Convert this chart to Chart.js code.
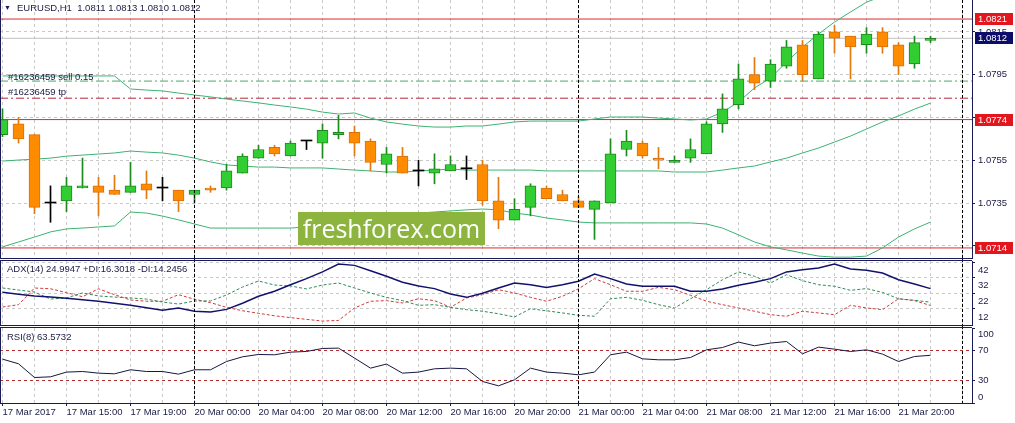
<!DOCTYPE html>
<html>
<head>
<meta charset="utf-8">
<title>EURUSD H1</title>
<script src="https://cdn.jsdelivr.net/npm/chart.js@4.4.1/dist/chart.umd.min.js"></script>
<style>
  html, body { margin: 0; padding: 0; background: #fff; }
  #chart { position: relative; width: 1015px; height: 423px; overflow: hidden; font-family: 'Liberation Sans', Arial, sans-serif; }
  #chart canvas { position: absolute; left: 0; }
  .lbl { position: absolute; font-size: 9.5px; line-height: 12px; color: #1b1b45; white-space: pre; }
  #logo { position: absolute; left: 298px; top: 212px; width: 187px; height: 33px; background: #8cb43f; color: #fff;
          font-family: 'Open Sans', sans-serif; font-size: 25px; line-height: 32px; text-align: center; }
</style>
</head>
<body>
<div id="chart">
  <canvas id="priceChart" width="1015" height="259" style="top:0"></canvas>
  <canvas id="adxChart" width="1015" height="67" style="top:259px"></canvas>
  <canvas id="rsiChart" width="1015" height="97" style="top:326px"></canvas>
  <div class="lbl" style="left:4px;top:2px;font-size:7px;color:#1b1b6b">▼</div>
  <div class="lbl" style="left:17px;top:2px">EURUSD,H1  1.0811 1.0813 1.0810 1.0812</div>
  <div class="lbl" style="left:8px;top:71px">#16236459 sell 0.15</div>
  <div class="lbl" style="left:8px;top:86px">#16236459 tp</div>
  <div class="lbl" style="left:7px;top:263px">ADX(14) 24.9947 +DI:16.3018 -DI:14.2456</div>
  <div class="lbl" style="left:7px;top:331px">RSI(8) 63.5732</div>
  <div id="logo">freshforex.com</div>
</div>
<script>
// EURUSD H1, 17 Mar 11:00 - 21 Mar 22:00 (2017)
var opens = [1.0767,1.0772,1.0767,1.0735,1.0736,1.0742,1.0743,1.0741,1.0740,1.0744,
             1.0742,1.0741,1.0739,1.0742,1.0742,1.0749,1.0756,1.0761,1.0757,1.0764,
             1.0763,1.0767,1.0768,1.0764,1.0753,1.0757,1.0750,1.0749,1.0750,1.0751,
             1.0753,1.0736,1.0727,1.0733,1.0742,1.0739,1.0736,1.0732,1.0735,1.0760,
             1.0763,1.0756,1.0754,1.0756,1.0758,1.0772,1.0781,1.0795,1.0792,1.0799,
             1.0809,1.0793,1.0815,1.0813,1.0809,1.0815,1.0809,1.0800,1.0811];
var highs = [1.0779,1.0775,1.0767,1.0743,1.0747,1.0756,1.0747,1.0748,1.0754,1.0750,
             1.0747,1.0741,1.0741,1.0743,1.0753,1.0758,1.0762,1.0762,1.0764,1.0764,
             1.0772,1.0776,1.0771,1.0765,1.0761,1.0761,1.0755,1.0758,1.0757,1.0757,
             1.0755,1.0747,1.0737,1.0744,1.0743,1.0741,1.0738,1.0736,1.0765,1.0769,
             1.0764,1.0761,1.0757,1.0765,1.0773,1.0786,1.0800,1.0803,1.0802,1.0811,
             1.0811,1.0815,1.0818,1.0813,1.0817,1.0817,1.0810,1.0813,1.0813];
var lows = [1.0766,1.0763,1.0730,1.0726,1.0731,1.0742,1.0729,1.0739,1.0740,1.0737,
            1.0736,1.0731,1.0735,1.0740,1.0741,1.0749,1.0756,1.0757,1.0757,1.0760,
            1.0756,1.0765,1.0757,1.0750,1.0749,1.0749,1.0743,1.0744,1.0750,1.0746,
            1.0734,1.0723,1.0727,1.0729,1.0737,1.0736,1.0733,1.0718,1.0735,1.0757,
            1.0756,1.0751,1.0754,1.0754,1.0758,1.0768,1.0779,1.0788,1.0789,1.0798,
            1.0792,1.0793,1.0805,1.0793,1.0805,1.0805,1.0795,1.0798,1.0810];
var closes = [1.0774,1.0765,1.0733,1.0735,1.0743,1.0743,1.0740,1.0739,1.0743,1.0741,
              1.0742,1.0736,1.0741,1.0741,1.0750,1.0757,1.0760,1.0758,1.0763,1.0764,
              1.0769,1.0768,1.0763,1.0754,1.0758,1.0749,1.0750,1.0751,1.0753,1.0751,
              1.0736,1.0727,1.0732,1.0743,1.0737,1.0736,1.0733,1.0736,1.0758,1.0764,
              1.0757,1.0755,1.0755,1.0760,1.0772,1.0779,1.0793,1.0791,1.0800,1.0808,
              1.0795,1.0814,1.0812,1.0808,1.0814,1.0808,1.0799,1.0810,1.0812];

// Bollinger bands
var bbUpper = [1.07944,1.07944,1.07944,1.07944,1.07944,1.07944,1.07944,1.07944,1.07883,1.07878,
               1.07874,1.07864,1.07855,1.07846,1.07836,1.07827,1.07818,1.07808,1.07799,1.07789,
               1.07775,1.07766,1.07771,1.07747,1.07729,1.07719,1.07710,1.07705,1.07705,1.07710,
               1.07710,1.07719,1.07729,1.07733,1.07733,1.07733,1.07733,1.07743,1.07752,1.07752,
               1.07752,1.07747,1.07743,1.07738,1.07743,1.07775,1.07822,1.07888,1.07934,1.08009,
               1.08079,1.08140,1.08196,1.08243,1.08289,1.08317,1.08341,1.08360,1.08374];
var bbMiddle = [1.07546,1.07551,1.07555,1.07560,1.07569,1.07574,1.07579,1.07584,1.07593,1.07588,
                1.07584,1.07574,1.07560,1.07542,1.07528,1.07523,1.07518,1.07518,1.07514,1.07514,
                1.07514,1.07509,1.07504,1.07500,1.07495,1.07495,1.07500,1.07504,1.07509,1.07504,
                1.07504,1.07504,1.07504,1.07504,1.07500,1.07500,1.07500,1.07500,1.07500,1.07500,
                1.07500,1.07500,1.07495,1.07495,1.07495,1.07504,1.07514,1.07523,1.07542,1.07560,
                1.07584,1.07607,1.07635,1.07663,1.07696,1.07729,1.07757,1.07789,1.07817];
var bbLower = [1.07145,1.07168,1.07191,1.07215,1.07229,1.07233,1.07238,1.07243,1.07308,1.07303,
               1.07289,1.07271,1.07252,1.07233,1.07233,1.07233,1.07233,1.07233,1.07233,1.07238,
               1.07243,1.07243,1.07247,1.07261,1.07280,1.07294,1.07303,1.07308,1.07313,1.07318,
               1.07322,1.07318,1.07303,1.07294,1.07280,1.07271,1.07261,1.07257,1.07257,1.07257,
               1.07257,1.07257,1.07257,1.07257,1.07252,1.07233,1.07201,1.07168,1.07145,1.07131,
               1.07116,1.07102,1.07097,1.07097,1.07102,1.07140,1.07191,1.07229,1.07261];

// ADX(14)
var adx = [22.6,21.4,20.3,19.6,18.8,17.9,16.9,15.6,14.3,12.8,
           11.1,12.6,10.5,10.0,11.7,15.6,20.1,23.3,27.5,31.4,
           35.7,40.8,39.9,36.5,32.9,29.1,26.7,25.0,21.6,19.4,
           22.0,25.4,28.6,27.5,25.8,27.5,29.7,34.4,31.4,28.0,
           26.5,26.5,26.5,23.3,23.3,24.8,27.1,29.1,31.4,35.7,
           37.1,38.2,40.8,37.6,36.7,35.0,30.7,28.0,25.0];
var plusDI = [25.4,24.1,22.8,18.3,19.0,22.2,20.3,19.6,19.0,18.3,
              16.4,15.1,17.1,17.1,20.9,26.0,29.9,27.3,26.7,24.8,
              27.3,28.6,25.4,22.2,19.4,17.3,14.3,14.7,13.0,11.5,
              10.5,8.9,6.8,12.1,10.8,9.4,7.9,7.3,18.5,19.4,
              17.5,14.7,12.6,18.5,24.3,30.7,35.7,32.9,28.6,33.9,
              30.1,27.5,26.5,23.9,25.0,22.6,18.5,17.5,16.3];
var minusDI = [13.2,14.7,25.4,24.9,22.4,19.8,24.9,21.1,17.7,16.9,
               16.9,21.1,18.2,16.0,13.0,10.8,9.2,7.6,6.4,5.3,
               4.2,4.6,12.6,16.9,17.3,15.8,18.5,17.3,13.0,19.0,
               21.1,24.3,22.2,19.4,16.9,20.1,24.9,31.4,27.5,23.3,
               23.3,25.8,24.3,20.7,16.9,14.7,12.6,10.5,8.3,7.3,
               10.5,9.4,8.3,14.3,12.6,11.5,18.5,17.3,14.2];

// RSI(8)
var rsi = [58.5,52.3,34.0,34.9,41.2,42.0,39.8,38.9,44.3,42.0,
           42.0,38.5,44.3,44.3,55.3,61.6,64.7,64.3,67.8,68.7,
           72.7,73.2,59.9,46.5,51.9,39.8,41.2,45.6,46.5,45.6,
           28.7,22.9,30.9,46.5,41.2,39.8,37.6,41.2,64.3,67.8,
           58.9,57.6,57.6,60.7,70.9,74.0,81.2,76.3,79.9,82.0,
           65.6,74.5,71.8,68.7,70.9,65.2,55.3,62.0,63.6];

// one label every 4 bars
var tickLabels = ['17 Mar 2017','17 Mar 15:00','17 Mar 19:00','20 Mar 00:00','20 Mar 04:00',
                  '20 Mar 08:00','20 Mar 12:00','20 Mar 16:00','20 Mar 20:00','21 Mar 00:00',
                  '21 Mar 04:00','21 Mar 08:00','21 Mar 12:00','21 Mar 16:00','21 Mar 20:00'];
var priceTicks = [1.0715, 1.0735, 1.0755, 1.0775, 1.0795, 1.0815];
var adxTicks = [12, 22, 32, 42];
var rsiTicks = [0, 30, 70, 100];
var rsiLevels = [30, 70];
var redLevels = [1.0821, 1.0774, 1.0714];
var bidPrice = 1.0812;
var orderPrice = 1.0792;
var tpPrice = 1.0784;
var daySeparators = [12, 36, 60];

var X_MIN = -0.15625, X_MAX = 60.59375;
var NAVY = '#1b1b55';
var TEXT = '#1b1b45';
var GRID = '#c8c8c8';
var BAND = '#3cb371';
var FONT = "9.5px 'Liberation Sans', Arial, sans-serif";

Chart.defaults.font.family = "'Liberation Sans', Arial, sans-serif";
Chart.defaults.font.size = 9.5;
Chart.defaults.color = TEXT;

var bars = opens.map(function (o, i) { return i; });
var gridBars = [];
for (var g = 0; g <= 60; g += 2) gridBars.push(g);

function pick(i, up, down, flat) {
	if (closes[i] > opens[i]) return up;
	if (closes[i] < opens[i]) return down;
	return flat;
}
var bodyFill = bars.map(function (i) { return pick(i, '#32cd32', '#ff8c00', '#000000'); });
var bodyLine = bars.map(function (i) { return pick(i, '#1d8a1d', '#d8700a', '#000000'); });
var wickColor = bars.map(function (i) { return pick(i, '#1d8a1d', '#e07a10', '#000000'); });
var bodyBorder = bars.map(function (i) { return opens[i] === closes[i] ? 0 : 1; });

function labelAt(v) {
	return (v % 4 === 0 && tickLabels[v / 4]) ? tickLabels[v / 4] : '';
}

function series(values, color, width, dash, order) {
	return {
		type: 'line',
		data: values.map(function (v, i) { return { x: i, y: v }; }),
		borderColor: color, borderWidth: width, borderDash: dash || [],
		pointRadius: 0, tension: 0, fill: false, order: order || 3
	};
}
function level(value, color, dash) {
	return {
		type: 'line',
		data: [{ x: X_MIN, y: value }, { x: X_MAX, y: value }],
		borderColor: color, borderWidth: 1, borderDash: dash || [],
		pointRadius: 0, fill: false, order: 5
	};
}

function xAxis(withLabels) {
	return {
		type: 'linear', min: X_MIN, max: X_MAX, offset: false,
		afterBuildTicks: function (s) { s.ticks = gridBars.map(function (v) { return { value: v }; }); },
		afterFit: function (s) {
			s.height = withLabels ? 20 : 0;
			s.paddingLeft = 0; s.paddingRight = 0;
		},
		grid: {
			offset: false, color: GRID, drawTicks: withLabels, tickLength: 3,
			tickColor: function (ctx) { return ctx.tick && labelAt(ctx.tick.value) ? NAVY : 'rgba(0,0,0,0)'; }
		},
		border: { display: false, dash: [3, 3] },
		ticks: {
			display: withLabels, autoSkip: false, maxRotation: 0, align: 'start', padding: 1, color: TEXT,
			callback: function (v) { return labelAt(v); }
		}
	};
}
function yAxis(min, max, ticks, gridOnArea, showLabels) {
	return {
		type: 'linear', position: 'right', min: min, max: max,
		afterBuildTicks: function (s) { s.ticks = ticks.map(function (v) { return { value: v }; }); },
		afterFit: function (s) {
			s.width = 43;
			// keep the plot area flush with the panel edges
			s.paddingTop = 0; s.paddingBottom = 0;
		},
		grid: { color: GRID, drawOnChartArea: gridOnArea, tickLength: 3, tickColor: NAVY },
		border: { display: true, color: NAVY, dash: [3, 3] },
		ticks: { display: showLabels, padding: 3, color: TEXT, callback: function (v) { return v.toFixed(4); } }
	};
}

// panel frame (left / top / bottom lines)
var framePlugin = {
	id: 'frame',
	afterDraw: function (chart, args, opts) {
		var a = chart.chartArea, c = chart.ctx;
		c.save();
		c.strokeStyle = NAVY; c.lineWidth = 1;
		c.beginPath();
		c.moveTo(0.5, opts.top ? a.top - 0.5 : 0); c.lineTo(0.5, a.bottom + 0.5);
		c.moveTo(0, a.bottom + 0.5); c.lineTo(a.right, a.bottom + 0.5);
		if (opts.top) { c.moveTo(0, a.top - 0.5); c.lineTo(a.right, a.top - 0.5); }
		c.stroke();
		c.restore();
	}
};

// dotted day separators
var separatorPlugin = {
	id: 'separators',
	afterDatasetsDraw: function (chart) {
		var xs = chart.scales.x, a = chart.chartArea, c = chart.ctx;
		c.save();
		c.strokeStyle = '#000'; c.lineWidth = 1; c.setLineDash([3, 2]);
		daySeparators.forEach(function (b) {
			var px = Math.floor(xs.getPixelForValue(b)) + 0.5;
			c.beginPath(); c.moveTo(px, 0); c.lineTo(px, a.bottom); c.stroke();
		});
		c.restore();
	}
};

// right-hand labels for the indicator windows
var sideLabelPlugin = {
	id: 'sideLabels',
	afterDraw: function (chart, args, opts) {
		var ys = chart.scales.y, a = chart.chartArea, c = chart.ctx;
		c.save();
		c.fillStyle = TEXT; c.font = FONT; c.textBaseline = 'middle';
		opts.values.forEach(function (v) {
			var py = ys.getPixelForValue(v) + opts.offset;
			py = Math.min(Math.max(py, a.top + 6), a.bottom - 6);
			c.fillText(String(v), a.right + 6, py);
		});
		c.restore();
	}
};

// coloured price boxes on the price scale
var priceBoxPlugin = {
	id: 'priceBoxes',
	afterDraw: function (chart, args, opts) {
		var ys = chart.scales.y, a = chart.chartArea, c = chart.ctx;
		c.save();
		c.font = FONT; c.textBaseline = 'middle';
		opts.items.forEach(function (it) {
			var py = Math.round(ys.getPixelForValue(it.value));
			c.fillStyle = it.color;
			c.fillRect(a.right + 3, py - 6, 38, 12);
			c.fillStyle = '#ffffff';
			c.fillText(it.value.toFixed(4), a.right + 6, py);
		});
		c.restore();
	}
};

function baseOptions(padding, scales, pluginOpts) {
	var p = { legend: { display: false }, tooltip: { enabled: false } };
	for (var k in pluginOpts) p[k] = pluginOpts[k];
	return { responsive: false, animation: false, events: [], layout: { padding: padding }, plugins: p, scales: scales };
}

// ---- price window ----
var priceSets = [
	{
		type: 'bar', label: 'wicks',
		data: bars.map(function (i) { return { x: i, y: [lows[i], highs[i]] }; }),
		backgroundColor: wickColor, barThickness: 1, grouped: false, order: 2
	},
	{
		type: 'bar', label: 'bodies',
		data: bars.map(function (i) { return { x: i, y: [opens[i], closes[i]] }; }),
		backgroundColor: bodyFill, borderColor: bodyLine, borderWidth: bodyBorder,
		borderSkipped: false, barThickness: 11, minBarLength: 1, grouped: false, order: 1
	},
	series(bbUpper, BAND, 1, null, 4),
	series(bbMiddle, BAND, 1, null, 4),
	series(bbLower, BAND, 1, null, 4),
	level(bidPrice, '#c0c0c0'),
	level(orderPrice, '#4aa86a', [8, 3, 2, 3]),
	level(tpPrice, '#b8283a', [8, 3, 2, 3])
];
redLevels.forEach(function (v) { priceSets.push(level(v, '#dd2a2a')); });

new Chart(document.getElementById('priceChart'), {
	type: 'bar',
	data: { datasets: priceSets },
	options: baseOptions({ top: 0, bottom: 1, left: 0, right: 0 },
		{ x: xAxis(false), y: yAxis(1.07093, 1.08299, priceTicks, true, true) },
		{
			frame: { top: false },
			priceBoxes: {
				items: redLevels.map(function (v) { return { value: v, color: '#e3161e' }; })
					.concat([{ value: bidPrice, color: '#0c0c6a' }])
			}
		}),
	plugins: [framePlugin, separatorPlugin, priceBoxPlugin]
});

// ---- ADX window ----
new Chart(document.getElementById('adxChart'), {
	type: 'line',
	data: {
		datasets: [
			series(adx, '#12126e', 1.5, null, 1),
			series(plusDI, '#2e8b57', 1, [3, 2], 2),
			series(minusDI, '#d03a3a', 1, [3, 2], 3)
		]
	},
	options: baseOptions({ top: 2, bottom: 1, left: 0, right: 0 },
		{ x: xAxis(false), y: yAxis(1.68, 42.7, adxTicks, true, false) },
		{ frame: { top: true }, sideLabels: { values: adxTicks, offset: 8 } }),
	plugins: [framePlugin, separatorPlugin, sideLabelPlugin]
});

// ---- RSI window ----
var rsiSets = [series(rsi, '#161640', 1, null, 1)];
rsiLevels.forEach(function (v) { rsiSets.push(level(v, '#b03030', [3, 3])); });

new Chart(document.getElementById('rsiChart'), {
	type: 'line',
	data: { datasets: rsiSets },
	options: baseOptions({ top: 2, bottom: 0, left: 0, right: 0 },
		{ x: xAxis(true), y: yAxis(0, 100, rsiTicks, false, false) },
		{ frame: { top: true }, sideLabels: { values: rsiTicks, offset: 0 } }),
	plugins: [framePlugin, separatorPlugin, sideLabelPlugin]
});
</script>
</body>
</html>
